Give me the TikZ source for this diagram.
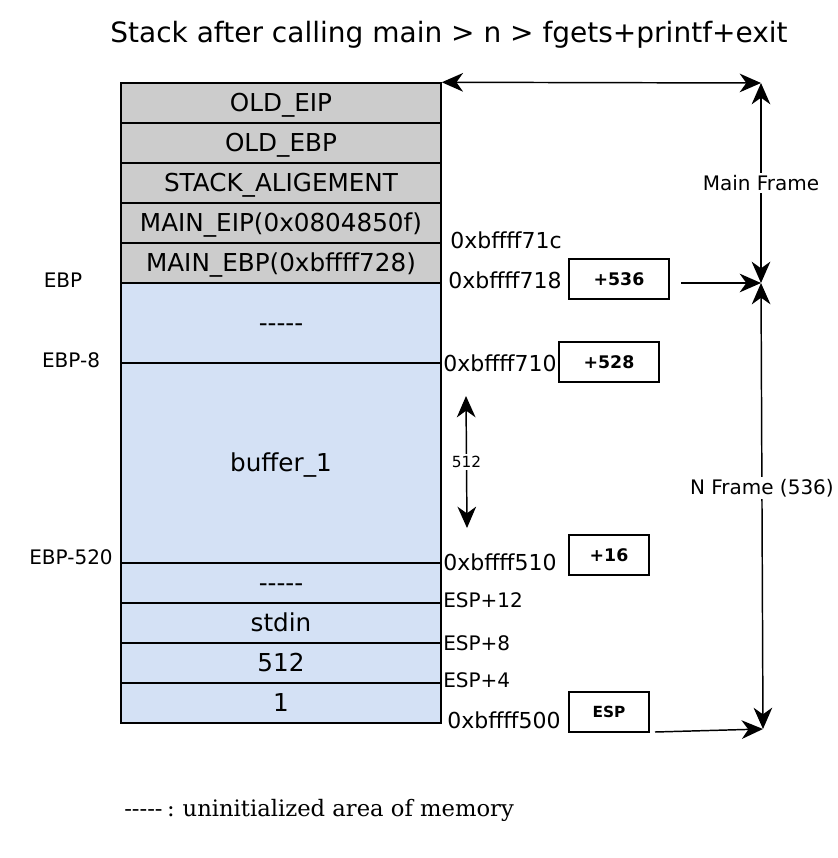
\documentclass[tikz,border=0pt]{standalone}
\usepackage{fontspec}
\setmainfont{DejaVu Sans}
\newfontfamily\legendfont{DejaVu Serif}
\usetikzlibrary{arrows.meta}
\definecolor{cellgray}{HTML}{CCCCCC}
\definecolor{cellblue}{HTML}{D4E1F5}
\newcommand\fivedashes{-\kern0pt-\kern0pt-\kern0pt-\kern0pt-}
\tikzset{
  cell/.style={draw=black, line width=1.1pt, minimum width=240pt, inner sep=0pt, anchor=center, text height=13pt, text depth=0pt, font=\fontsize{18.5}{21}\selectfont},
  graycell/.style={cell, fill=cellgray, minimum height=30pt},
  bluecell/.style={cell, fill=cellblue},
  addr/.style={anchor=west, inner sep=0pt, font=\fontsize{16.5}{18}\selectfont},
  sidelbl/.style={anchor=center, inner sep=0pt, font=\fontsize{15}{17}\selectfont},
  offbox/.style={draw=black, line width=1.1pt, minimum height=30pt, inner sep=0pt, font=\bfseries\fontsize{13}{15}\selectfont},
  conn/.style={line width=1.1pt, -{Stealth[length=16pt, width=14pt, inset=5pt]}},
  dconn/.style={line width=1.1pt, {Stealth[length=16pt, width=14pt, inset=5pt]}-{Stealth[length=16pt, width=14pt, inset=5pt]}},
  linelbl/.style={fill=white, inner sep=1.5pt, font=\fontsize{15}{17}\selectfont}
}
\begin{document}
\begin{tikzpicture}[x=0.75pt, y=-0.75pt]
\useasboundingbox (0,0) rectangle (838,858);
% title
\node[font=\fontsize{21}{24}\selectfont, inner sep=0pt] (title) at (449,35) {Stack after calling main > n > fgets+printf+exit};
% stack cells
\node[graycell] (eip) at (281,103) {OLD\_EIP};
\node[graycell] (oebp) at (281,143) {OLD\_EBP};
\node[graycell] (align) at (281,183) {STACK\_ALIGEMENT};
\node[graycell] (meip) at (281,223) {MAIN\_EIP(0x0804850f)};
\node[graycell] (mebp) at (281,263) {MAIN\_EBP(0xbffff728)};
\node[bluecell, minimum height=60pt] (u1) at (281,323) {\fivedashes};
\node[bluecell, minimum height=150pt] (buf) at (281,463) {buffer\_1};
\node[bluecell, minimum height=30pt] (u2) at (281,583) {\fivedashes};
\node[bluecell, minimum height=30pt] (stdin) at (281,623) {stdin};
\node[bluecell, minimum height=30pt] (n512) at (281,663) {512};
\node[bluecell, minimum height=30pt] (one) at (281,703) {1};
% left labels
\node[sidelbl] (lebp) at (63,280) {EBP};
\node[sidelbl] (lebp8) at (71,360) {EBP-8};
\node[sidelbl] (lebp520) at (71,557) {EBP-520};
% address labels
\node[addr] (a71c) at (450,240) {0xbffff71c};
\node[addr] (a718) at (448,280) {0xbffff718};
\node[addr] (a710) at (443,363) {0xbffff710};
\node[addr] (a510) at (443,562) {0xbffff510};
\node[addr, font=\fontsize{15}{17}\selectfont] (esp12) at (443,600) {ESP+12};
\node[addr, font=\fontsize{15}{17}\selectfont] (esp8) at (443,643) {ESP+8};
\node[addr, font=\fontsize{15}{17}\selectfont] (esp4) at (443,680) {ESP+4};
\node[addr] (a500) at (447,720) {0xbffff500};
% offset boxes
\node[offbox, minimum width=75pt] (b536) at (619,279) {+536};
\node[offbox, minimum width=75pt] (b528) at (609,362) {+528};
\node[offbox, minimum width=60pt] (b16) at (609,555) {+16};
\node[offbox, minimum width=60pt, font=\bfseries\fontsize{11.5}{13}\selectfont] (besp) at (609,712) {ESP};
% connector coordinates
\coordinate (mfTop) at (761,83);
\coordinate (mfBot) at (761,283);
\coordinate (nfBot) at (763,729);
\coordinate (s536) at (681,283);
\coordinate (sesp) at (655,732);
\coordinate (t512) at (466,396);
\coordinate (b512) at (467,528);
% connectors
\draw[dconn] (eip.north east) -- (mfTop);
\draw[dconn] (mfBot) -- node[linelbl] (lmain) {Main Frame} (mfTop);
\draw[dconn] (mfBot) -- node[linelbl, pos=0.46] (lnframe) {N Frame (536)} (nfBot);
\draw[conn] (s536) -- (mfBot);
\draw[conn] (sesp) -- (nfBot);
\draw[dconn] (t512) -- node[fill=white, inner sep=1.5pt, font=\fontsize{11.5}{13}\selectfont] (l512) {512} (b512);
% legend
\node[anchor=west, inner sep=0pt, font=\legendfont\fontsize{17}{20}\selectfont] (legend) at (124,810) {\fivedashes\hspace{0.2em}:\hspace{0.35em}uninitialized area of memory};
\end{tikzpicture}
\end{document}
